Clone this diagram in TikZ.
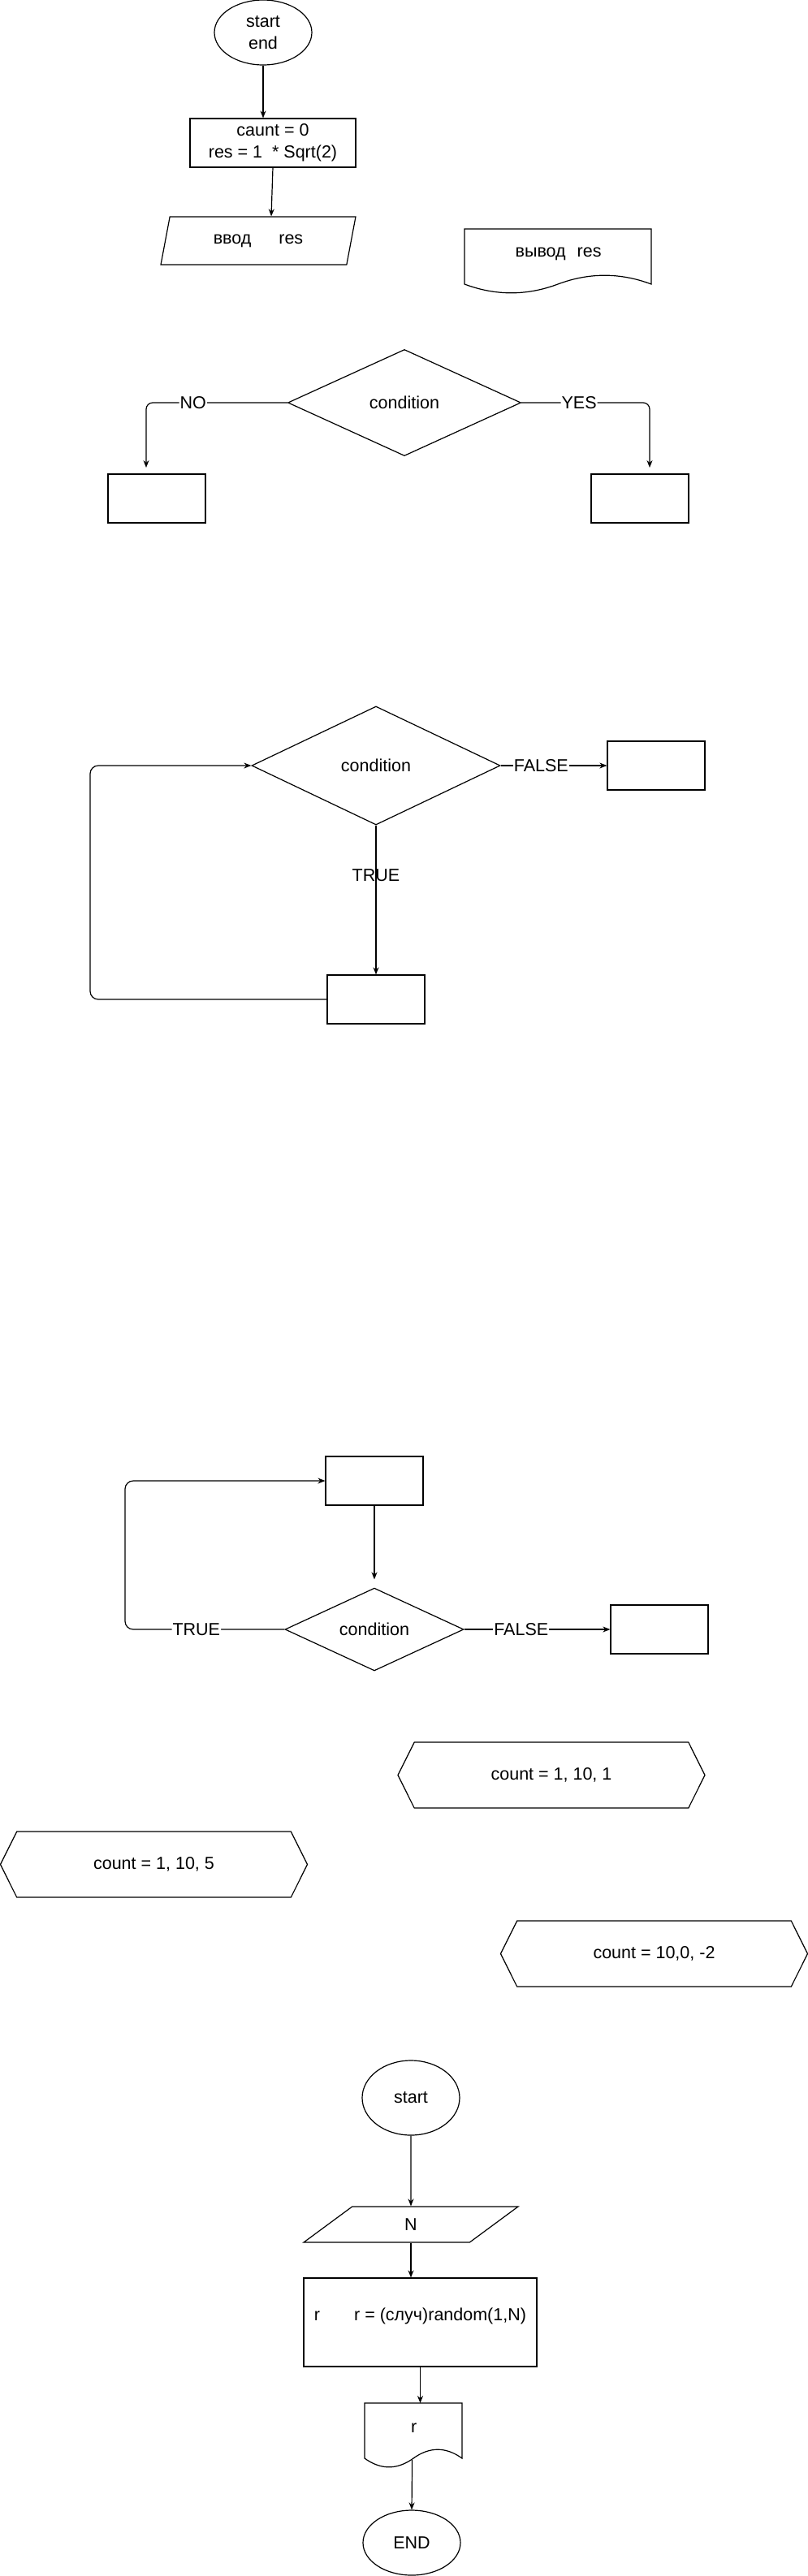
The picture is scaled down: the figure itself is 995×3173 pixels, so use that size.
\documentclass[tikz,border=0pt]{standalone}
\usepackage{fontspec}
\setmainfont{Liberation Sans}
\usetikzlibrary{shapes.geometric,shapes.symbols,arrows.meta}

\begin{document}
\begin{tikzpicture}[x=1pt,y=-1pt,>={Stealth[length=9pt,width=7pt]},
   line width=1.2pt,font=\fontsize{21.5}{27}\selectfont,
   term/.style={draw,ellipse,inner sep=0pt,minimum width=120,minimum height=80,align=center},
   procbox/.style={draw,rectangle,inner sep=0pt,minimum width=120,minimum height=60,align=center},
   iobox/.style={draw,trapezium,trapezium left angle=70.4,trapezium right angle=109.6,
      trapezium stretches=true,inner sep=0pt},
   decide/.style={draw,diamond,inner sep=0pt},
   loopbox/.style={draw,signal,signal to=west and east,signal pointer angle=127,
      inner sep=0pt,minimum width=378,minimum height=81},
   docbox/.style={rectangle,inner sep=0pt,minimum height=60,anchor=north west},
   lbl/.style={fill=white,inner sep=1pt}]
   \useasboundingbox (0,0) rectangle (995,3173);
   %start
   \node[term] (start1) at (324,40) {start\\end};
   \node[procbox,minimum width=204] (init) at (336,176) {caunt = 0\\res = 1\ \ * Sqrt(2)};
   \node[iobox,minimum width=240,minimum height=59] (inp) at (318,296.5) {ввод\hspace{34pt}res};
   \draw[->] (start1.south) -- (start1.south |- init.north);
   \draw[->] (init.south) -- ([xshift=16pt]inp.north);
   %output
   \node[docbox,minimum width=230] (outres) at (572,282) {вывод\hspace{8pt} res};
   \begin{scope}[shift={(outres.north west)},x=230pt]
     \draw (0,0) -- (1,0) -- (1,68) .. controls (0.8333,53.6) and (0.6667,53.6) .. (0.5,68)
        .. controls (0.3333,82.4) and (0.1667,82.4) .. (0,68) -- cycle;
   \end{scope}
   %if
   \node[decide,minimum width=287,minimum height=131] (cond1) at (498,496) {condition};
   \node[procbox] (no1) at (193,614) {};
   \node[procbox] (yes1) at (788,614) {};
   \coordinate (noend) at (180,576);
   \coordinate (yesend) at (800,576);
   \draw[->,rounded corners=8] (cond1.west) -| node[lbl,pos=0.334] {NO} (noend);
   \draw[->,rounded corners=8] (cond1.east) -| node[lbl,pos=0.225] {YES} (yesend);
   %while
   \node[decide,minimum width=306,minimum height=146] (cond2) at (463,943) {condition};
   \node[procbox] (exit2) at (808,943) {};
   \node[procbox] (body2) at (463,1231) {};
   \coordinate (back2) at (111,943);
   \draw[->] (cond2.east) -- node[lbl,pos=0.38] {FALSE} (exit2.west);
   \draw[->] (cond2.south) -- node[pos=0.335] {TRUE} (body2.north);
   \draw[->,rounded corners=10] (body2.west) -| (back2) -- (cond2.west);
   %do-while
   \node[procbox] (body3) at (461,1824) {};
   \node[decide,minimum width=220,minimum height=101] (cond3) at (461,2007) {condition};
   \node[procbox] (exit3) at (812,2007) {};
   \coordinate (back3) at (154,2007);
   \draw[->] (body3.south) -- ([yshift=10pt]cond3.north);
   \draw[->] (cond3.east) -- node[lbl,pos=0.39] {FALSE} (exit3.west);
   \draw[->,rounded corners=10] (cond3.west) -- node[lbl,pos=0.553] {TRUE} (back3) |- (body3.west);
   %for
   \node[loopbox] (for1) at (679,2186.5) {count = 1, 10, 1};
   \node[loopbox] (for2) at (189.5,2296.5) {count = 1, 10, 5};
   \node[loopbox] (for3) at (805.5,2406.5) {count = 10,0, -2};
   %random
   \node[term,minimum height=92] (start2) at (506,2584) {start};
   \node[iobox,minimum width=264,minimum height=44,trapezium left angle=66.6,
      trapezium right angle=113.4] (inN) at (506,2740) {N};
   \node[procbox,minimum width=287,minimum height=109] (calc) at (517.5,2860.5)
      {r\hspace{42pt}r = (случ)random(1,N)\\[-8pt]\mbox{}};
   \node[docbox,minimum width=120] (rdoc) at (449,2960) {r};
   \begin{scope}[shift={(rdoc.north west)},x=120pt]
     \draw (0,0) -- (1,0) -- (1,68) .. controls (0.8333,53.6) and (0.6667,53.6) .. (0.5,68)
        .. controls (0.3333,82.4) and (0.1667,82.4) .. (0,68) -- cycle;
   \end{scope}
   \node[term] (end2) at (507,3132) {END};
   \draw[->] (start2.south) -- (inN.north);
   \draw[->] (inN.south) -- (inN.south |- calc.north);
   \draw[->] (calc.south) -- (calc.south |- rdoc.north);
   \draw[->] ([xshift=-2pt,yshift=-9pt]rdoc.south) -- (end2.north);
\end{tikzpicture}
\end{document}
